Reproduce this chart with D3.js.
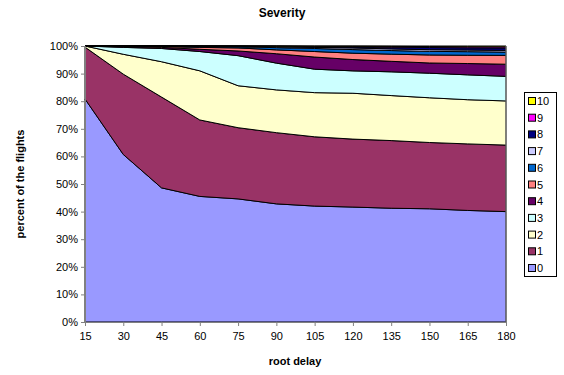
<!DOCTYPE html>
<html>
<head>
<meta charset="utf-8">
<script src="https://cdn.jsdelivr.net/npm/d3@7/dist/d3.min.js"></script>
<style>
  body { margin: 0; background: #fff; }
  text { font-family: "Liberation Sans", Arial, sans-serif; }
</style>
</head>
<body>
<script>
// root delay categories (minutes)
var delays = [15, 30, 45, 60, 75, 90, 105, 120, 135, 150, 165, 180];

// percent of flights per severity level
var sev0  = [80.8, 60.7, 48.6, 45.5, 44.6, 42.8, 42.0, 41.6, 41.2, 41.0, 40.4, 40.0];
var sev1  = [18.8, 29.1, 32.9, 27.7, 25.8, 25.8, 25.1, 24.6, 24.5, 24.0, 24.1, 24.1];
var sev2  = [0.4, 7.2, 12.8, 17.8, 15.2, 15.5, 16.0, 16.6, 16.3, 16.2, 16.0, 16.0];
var sev3  = [0, 2.5, 4.8, 7.0, 10.9, 9.7, 8.5, 8.1, 8.6, 8.9, 9.0, 8.9];
var sev4  = [0, 0.3, 0.4, 0.8, 1.7, 3.4, 4.4, 4.1, 3.8, 3.7, 4.1, 4.4];
var sev5  = [0, 0.1, 0.3, 0.7, 1.1, 1.4, 2.0, 2.3, 2.6, 2.9, 3.0, 3.2];
var sev6  = [0, 0.1, 0.1, 0.3, 0.4, 0.8, 1.1, 1.3, 1.3, 1.3, 1.3, 1.2];
var sev7  = [0, 0, 0.1, 0.1, 0.2, 0.3, 0.4, 0.6, 0.6, 0.6, 0.6, 0.6];
var sev8  = [0, 0, 0, 0.1, 0.05, 0.2, 0.3, 0.4, 0.6, 0.8, 0.8, 0.9];
var sev9  = [0, 0, 0, 0, 0.03, 0.05, 0.1, 0.2, 0.3, 0.35, 0.4, 0.4];
var sev10 = [0, 0, 0, 0, 0.02, 0.05, 0.1, 0.1, 0.15, 0.2, 0.25, 0.3];

var levels = ["0","1","2","3","4","5","6","7","8","9","10"];
var series = [sev0, sev1, sev2, sev3, sev4, sev5, sev6, sev7, sev8, sev9, sev10];
var colors = ["#9999FF","#993366","#FFFFCC","#CCFFFF","#660066","#FF8080",
              "#0066CC","#CCCCFF","#000080","#FF00FF","#FFFF00"];
var yTicks = [0, 0.1, 0.2, 0.3, 0.4, 0.5, 0.6, 0.7, 0.8, 0.9, 1];

var rows = delays.map(function(d, i) {
  var r = {delay: d};
  levels.forEach(function(k, j) { r[k] = series[j][i]; });
  return r;
});

var svg = d3.select("body").append("svg")
    .attr("width", 564)
    .attr("height", 375);

var x = d3.scalePoint().domain(delays).range([85, 506]);
var y = d3.scaleLinear().domain([0, 1]).range([322, 46]);

var stacked = d3.stack().keys(levels).offset(d3.stackOffsetExpand)(rows);

var area = d3.area()
    .x(function(d) { return x(d.data.delay); })
    .y0(function(d) { return y(d[0]); })
    .y1(function(d) { return y(d[1]); });

svg.append("g").selectAll("path")
  .data(stacked)
  .enter().append("path")
    .attr("d", area)
    .attr("fill", function(d, i) { return colors[i]; })
    .attr("stroke", "#000")
    .attr("stroke-width", 1)
    .attr("stroke-linejoin", "round");

// right edge of plot
svg.append("line")
    .attr("x1", x(180)).attr("x2", x(180))
    .attr("y1", y(1)).attr("y2", y(0))
    .attr("stroke", "#808080");

// axes
var yAxis = svg.append("g")
    .attr("transform", "translate(85,0)")
    .call(d3.axisLeft(y).tickValues(yTicks).tickFormat(d3.format(".0%")).tickSizeOuter(0).tickSize(4).tickPadding(3));
var xAxis = svg.append("g")
    .attr("transform", "translate(0,322)")
    .call(d3.axisBottom(x).tickSize(4).tickSizeOuter(0).tickPadding(6));

[yAxis, xAxis].forEach(function(a) {
  a.select(".domain").attr("stroke", "#808080");
  a.selectAll(".tick line").attr("stroke", "#808080");
  a.selectAll(".tick text")
    .attr("fill", "#000")
    .style("font-family", "'Liberation Sans', Arial, sans-serif")
    .style("font-size", "11px");
});

// titles
svg.append("text")
    .attr("x", 282).attr("y", 17)
    .attr("text-anchor", "middle")
    .style("font-weight", "bold")
    .style("font-size", "12px")
    .text("Severity");

svg.append("text")
    .attr("x", 295).attr("y", 365)
    .attr("text-anchor", "middle")
    .style("font-weight", "bold")
    .style("font-size", "11px")
    .text("root delay");

svg.append("text")
    .attr("transform", "translate(24,184) rotate(-90)")
    .attr("text-anchor", "middle")
    .style("font-weight", "bold")
    .style("font-size", "11px")
    .text("percent of the flights");

// legend
var legend = svg.append("g");
legend.append("rect")
    .attr("x", 524.5).attr("y", 92.5)
    .attr("width", 32).attr("height", 184)
    .attr("fill", "#fff")
    .attr("stroke", "#000");

var item = legend.selectAll("g.item")
  .data(levels.slice().reverse())
  .enter().append("g")
    .attr("class", "item")
    .attr("transform", function(d, i) { return "translate(528," + (101 + i * 16.7) + ")"; });

item.append("rect")
    .attr("x", 0.5).attr("y", -3.5)
    .attr("width", 7).attr("height", 7)
    .attr("fill", function(d) { return colors[+d]; })
    .attr("stroke", "#000");

item.append("text")
    .attr("x", 9).attr("y", 4)
    .style("font-size", "11px")
    .text(function(d) { return d; });
</script>
</body>
</html>
